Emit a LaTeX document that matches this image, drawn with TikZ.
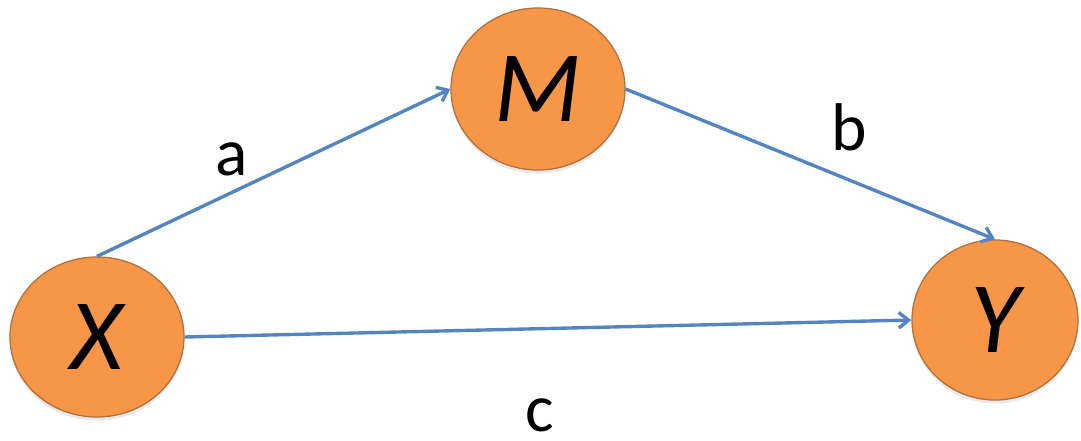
\documentclass[tikz,border=0pt]{standalone}
\usepackage{fontspec}
\setmainfont{Carlito}
\usetikzlibrary{positioning}
\usetikzlibrary{arrows.meta}
\usetikzlibrary{shapes.geometric}
\usetikzlibrary{shadows}
\definecolor{varfill}{RGB}{247,150,70}
\definecolor{varedge}{RGB}{176,112,62}
\definecolor{pathblue}{RGB}{84,133,192}

\begin{document}
\begin{tikzpicture}[x=0.025cm, y=-0.025cm,
    var/.style={draw=varedge, line width=0.9pt, fill=varfill, ellipse, inner sep=0pt,
        drop shadow={opacity=0.18, shadow xshift=0pt, shadow yshift=-2.5pt},
        font=\fontsize{72}{72}\selectfont\itshape},
    path/.style={-{Straight Barb[length=7pt, width=11pt, line width=2.4pt]}, pathblue, line width=2.4pt},
    lbl/.style={inner sep=0pt, font=\fontsize{48}{48}\selectfont}]
    \useasboundingbox (0,0) rectangle (1081,441);
    \node[var, minimum width=4.35cm, minimum height=4.0cm] (x) at (97,337) {X};
    \node[var, minimum width=4.35cm, minimum height=4.05cm] (m) at (538,89) {M};
    \node[var, minimum width=4.15cm, minimum height=4.0cm] (y) at (995,320) {Y};
    \draw[path] (x.north) -- (m.west);
    \draw[path] (m.east) -- (y.north);
    \draw[path] (x.east) -- (y.west);
    \node[lbl] (la) at (232,159) {a};
    \node[lbl] (lb) at (849,127) {b};
    \node[lbl] (lc) at (540,415) {c};
\end{tikzpicture}
\end{document}
